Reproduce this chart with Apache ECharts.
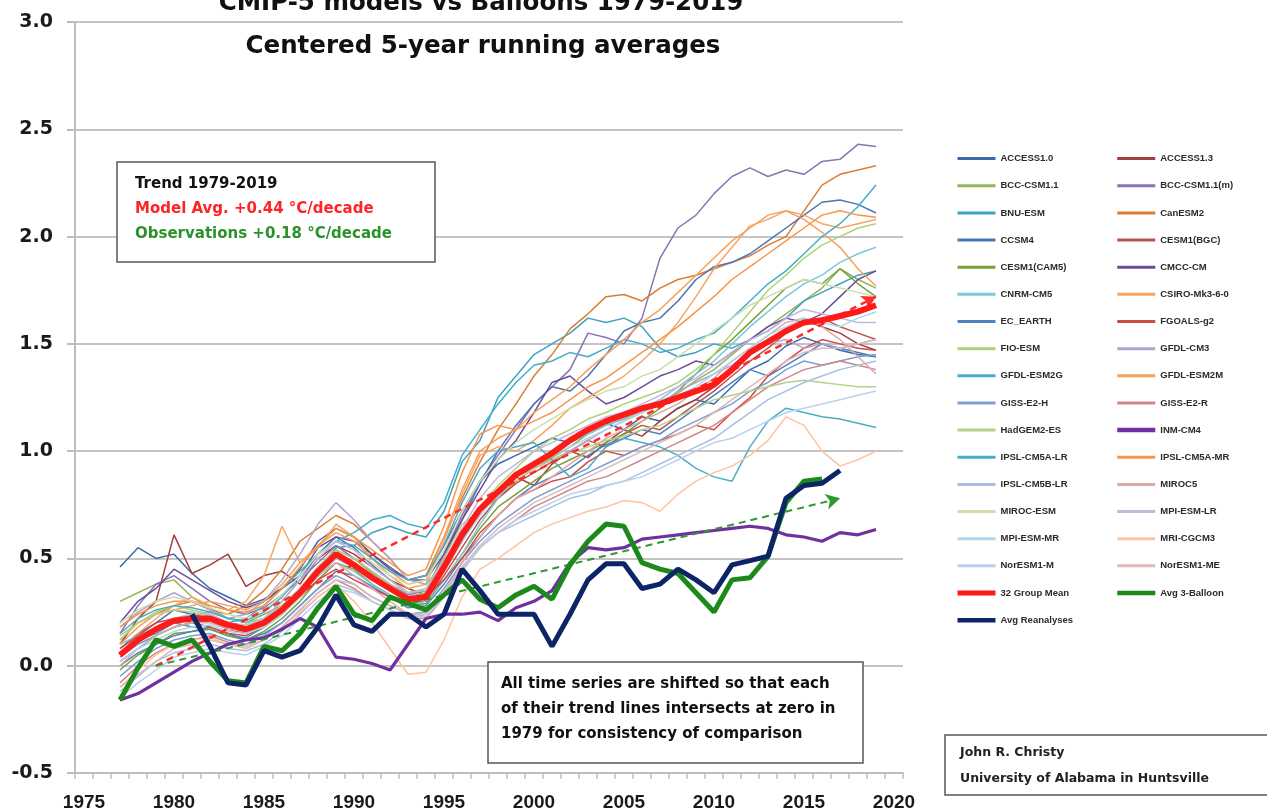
<!DOCTYPE html>
<html>
<head>
<meta charset="utf-8">
<title>CMIP-5 models vs Balloons 1979-2019</title>
<script src="https://cdn.jsdelivr.net/npm/echarts@6/dist/echarts.min.js"></script>
<style>
  html, body { margin: 0; padding: 0; background: #fff; }
  #chart { width: 1267px; height: 812px; }
</style>
</head>
<body>
<div id="chart"></div>
<script>
// axis categories (Excel-style category axis, one band per year)
const categories = ['1975','1976','1977','1978','1979','1980','1981','1982','1983','1984',
  '1985','1986','1987','1988','1989','1990','1991','1992','1993','1994','1995','1996','1997',
  '1998','1999','2000','2001','2002','2003','2004','2005','2006','2007','2008','2009','2010',
  '2011','2012','2013','2014','2015','2016','2017','2018','2019','2020']
// series run 1977..2019
const years = categories.slice(2, 45)

// model runs, centered 5-yr means, 1977..2019
const access10 = [0.46,0.55,0.50,0.52,0.43,0.36,0.32,0.28,0.31,0.36, 0.45,0.58,0.64,0.60,0.52,0.46,0.40,0.42,0.56,0.72, 0.86,0.94,0.98,1.02,1.06,1.04,1.10,1.13,1.10,1.16, 1.14,1.20,1.24,1.22,1.30,1.38,1.42,1.49,1.53,1.50, 1.47,1.45,1.44]
const access13 = [0.10,0.22,0.30,0.61,0.43,0.47,0.52,0.37,0.42,0.44, 0.38,0.50,0.56,0.52,0.46,0.40,0.36,0.33,0.44,0.58, 0.72,0.80,0.88,0.84,0.94,1.00,0.97,1.04,1.10,1.07, 1.14,1.20,1.24,1.30,1.37,1.45,1.50,1.56,1.61,1.58, 1.55,1.50,1.47]
const bccCsm11 = [0.30,0.34,0.38,0.40,0.32,0.27,0.22,0.20,0.24,0.28, 0.36,0.46,0.54,0.50,0.43,0.37,0.32,0.34,0.47,0.62, 0.72,0.78,0.86,0.92,0.97,1.02,1.08,1.12,1.15,1.19, 1.23,1.27,1.33,1.38,1.45,1.52,1.58,1.64,1.70,1.76, 1.85,1.80,1.76]
const bccCsm11m = [0.15,0.28,0.38,0.42,0.36,0.30,0.26,0.24,0.27,0.33, 0.40,0.48,0.56,0.50,0.44,0.38,0.33,0.35,0.52,0.70, 0.86,0.98,1.10,1.22,1.30,1.38,1.55,1.53,1.50,1.62, 1.90,2.04,2.10,2.20,2.28,2.32,2.28,2.31,2.29,2.35, 2.36,2.43,2.42]
const bnuEsm = [0.05,0.12,0.15,0.20,0.18,0.17,0.14,0.13,0.18,0.24, 0.33,0.45,0.55,0.56,0.62,0.65,0.62,0.60,0.72,0.95, 1.05,1.25,1.35,1.45,1.50,1.55,1.62,1.60,1.62,1.58, 1.48,1.44,1.46,1.50,1.48,1.52,1.56,1.62,1.70,1.74, 1.78,1.82,1.84]
const canEsm2 = [0.12,0.20,0.24,0.28,0.30,0.26,0.24,0.28,0.35,0.45, 0.58,0.64,0.70,0.66,0.58,0.50,0.40,0.42,0.60,0.78, 0.95,1.10,1.22,1.35,1.45,1.57,1.64,1.72,1.73,1.70, 1.76,1.80,1.82,1.85,1.88,1.91,1.96,2.00,2.12,2.24, 2.29,2.31,2.33]
const ccsm4 = [0.08,0.15,0.20,0.26,0.24,0.22,0.18,0.17,0.22,0.30, 0.40,0.52,0.60,0.55,0.47,0.40,0.34,0.35,0.50,0.68, 0.85,1.00,1.12,1.22,1.30,1.28,1.35,1.45,1.56,1.60, 1.62,1.70,1.80,1.86,1.88,1.92,1.98,2.04,2.10,2.16, 2.17,2.15,2.11]
const cesm1Bgc = [0.02,0.08,0.14,0.18,0.20,0.21,0.17,0.15,0.19,0.25, 0.33,0.42,0.50,0.46,0.40,0.35,0.30,0.30,0.42,0.55, 0.68,0.78,0.85,0.90,0.95,1.00,1.05,1.02,1.08,1.12, 1.10,1.16,1.22,1.28,1.35,1.42,1.48,1.55,1.60,1.62, 1.58,1.55,1.52]
const cesm1Cam5 = [-0.02,0.05,0.10,0.15,0.16,0.17,0.14,0.12,0.16,0.22, 0.30,0.40,0.48,0.45,0.38,0.33,0.28,0.29,0.40,0.52, 0.64,0.74,0.80,0.86,0.92,0.96,1.00,1.04,1.08,1.14, 1.20,1.28,1.36,1.45,1.52,1.60,1.68,1.76,1.80,1.78, 1.85,1.78,1.72]
const cmccCm = [0.20,0.30,0.36,0.45,0.40,0.35,0.30,0.27,0.30,0.36, 0.42,0.55,0.60,0.58,0.52,0.45,0.40,0.40,0.52,0.68, 0.82,0.96,1.05,1.18,1.32,1.35,1.28,1.22,1.25,1.30, 1.35,1.38,1.42,1.40,1.46,1.52,1.58,1.62,1.60,1.64, 1.72,1.80,1.84]
const cnrmCm5 = [0.10,0.14,0.18,0.22,0.24,0.25,0.22,0.20,0.22,0.27, 0.34,0.42,0.48,0.44,0.38,0.33,0.28,0.30,0.40,0.52, 0.66,0.78,0.88,0.95,0.98,1.04,1.08,1.12,1.15,1.20, 1.24,1.30,1.36,1.42,1.50,1.58,1.65,1.72,1.78,1.82, 1.88,1.92,1.95]
const csiroMk36 = [0.05,0.15,0.22,0.28,0.32,0.28,0.26,0.30,0.42,0.65, 0.48,0.55,0.66,0.60,0.50,0.42,0.36,0.38,0.58,0.80, 0.98,1.02,1.00,1.05,1.12,1.20,1.25,1.30,1.35,1.42, 1.50,1.60,1.72,1.85,1.95,2.05,2.08,2.12,2.10,2.06, 2.04,2.06,2.08]
const ecEarth = [0.00,0.06,0.10,0.14,0.16,0.18,0.15,0.12,0.15,0.20, 0.28,0.36,0.44,0.42,0.37,0.32,0.27,0.28,0.38,0.50, 0.60,0.70,0.78,0.84,0.88,0.92,0.98,1.03,1.06,1.10, 1.08,1.14,1.20,1.26,1.32,1.38,1.35,1.40,1.45,1.50, 1.48,1.46,1.44]
const fgoalsG2 = [0.08,0.14,0.20,0.22,0.20,0.18,0.15,0.14,0.18,0.24, 0.32,0.40,0.45,0.40,0.36,0.32,0.30,0.32,0.40,0.50, 0.62,0.70,0.78,0.82,0.86,0.88,0.95,1.00,0.98,1.02, 1.05,1.08,1.12,1.10,1.18,1.25,1.35,1.42,1.48,1.52, 1.50,1.48,1.47]
const fioEsm = [0.12,0.20,0.25,0.28,0.26,0.24,0.20,0.18,0.21,0.26, 0.34,0.44,0.52,0.48,0.42,0.36,0.32,0.33,0.45,0.60, 0.74,0.84,0.92,1.00,1.06,1.10,1.15,1.18,1.22,1.25, 1.28,1.32,1.38,1.45,1.55,1.65,1.75,1.82,1.90,1.96, 2.00,2.04,2.06]
const gfdlCm3 = [0.18,0.25,0.30,0.34,0.30,0.26,0.22,0.24,0.30,0.40, 0.52,0.66,0.76,0.68,0.58,0.50,0.40,0.38,0.48,0.62, 0.74,0.82,0.88,0.92,0.96,1.00,1.05,1.10,1.14,1.18, 1.22,1.28,1.32,1.36,1.40,1.46,1.50,1.52,1.48,1.50, 1.48,1.50,1.52]
const gfdlEsm2g = [0.04,0.10,0.14,0.18,0.20,0.22,0.20,0.22,0.28,0.36, 0.44,0.52,0.58,0.62,0.68,0.70,0.66,0.64,0.76,0.98, 1.10,1.22,1.32,1.40,1.42,1.46,1.44,1.48,1.52,1.50, 1.46,1.48,1.52,1.55,1.62,1.70,1.78,1.84,1.92,2.00, 2.06,2.14,2.24]
const gfdlEsm2m = [0.10,0.18,0.24,0.26,0.28,0.30,0.28,0.26,0.30,0.38, 0.48,0.56,0.62,0.58,0.50,0.44,0.38,0.40,0.60,0.82, 1.00,1.06,1.10,1.18,1.24,1.30,1.38,1.45,1.52,1.60, 1.66,1.74,1.82,1.90,1.98,2.04,2.10,2.12,2.08,2.02, 1.95,1.85,1.77]
const gissE2h = [-0.05,0.02,0.08,0.12,0.14,0.15,0.12,0.10,0.14,0.20, 0.28,0.36,0.42,0.38,0.32,0.28,0.24,0.25,0.36,0.48, 0.58,0.66,0.72,0.78,0.82,0.86,0.90,0.94,0.98,1.02, 1.05,1.10,1.14,1.18,1.22,1.28,1.32,1.38,1.42,1.40, 1.42,1.44,1.45]
const gissE2r = [-0.08,0.00,0.06,0.10,0.12,0.14,0.11,0.09,0.12,0.18, 0.26,0.34,0.40,0.36,0.30,0.26,0.22,0.22,0.32,0.44, 0.55,0.62,0.68,0.74,0.78,0.82,0.86,0.88,0.92,0.96, 1.00,1.04,1.08,1.12,1.18,1.24,1.30,1.34,1.38,1.40, 1.42,1.40,1.38]
const hadgem2Es = [0.14,0.20,0.24,0.26,0.25,0.23,0.20,0.19,0.22,0.28, 0.36,0.46,0.54,0.50,0.44,0.38,0.34,0.36,0.50,0.66, 0.72,0.80,0.86,0.92,0.96,0.99,1.02,1.05,1.07,1.10, 1.12,1.16,1.20,1.24,1.26,1.28,1.30,1.32,1.33,1.32, 1.31,1.30,1.30]
const inmCm4 = [-0.16,-0.13,-0.08,-0.03,0.02,0.06,0.10,0.12,0.13,0.17, 0.22,0.18,0.04,0.03,0.01,-0.02,0.10,0.22,0.24,0.24, 0.25,0.21,0.27,0.30,0.35,0.48,0.55,0.54,0.55,0.59, 0.60,0.61,0.62,0.63,0.64,0.65,0.64,0.61,0.60,0.58, 0.62,0.61,0.635]
const ipslCm5aLr = [0.15,0.22,0.26,0.28,0.27,0.25,0.22,0.21,0.25,0.32, 0.42,0.52,0.58,0.56,0.50,0.44,0.40,0.42,0.56,0.76, 0.92,1.00,1.02,1.04,0.96,0.88,0.92,1.02,1.06,1.04, 1.02,0.98,0.92,0.88,0.86,1.02,1.14,1.20,1.18,1.16, 1.15,1.13,1.11]
const ipslCm5aMr = [0.18,0.24,0.28,0.30,0.30,0.28,0.26,0.25,0.28,0.36, 0.46,0.56,0.64,0.60,0.54,0.48,0.42,0.45,0.65,0.90, 1.08,1.12,1.10,1.14,1.18,1.24,1.30,1.34,1.40,1.46, 1.52,1.58,1.65,1.72,1.80,1.86,1.92,1.98,2.04,2.10, 2.12,2.10,2.09]
const ipslCm5bLr = [-0.12,-0.05,0.02,0.06,0.08,0.10,0.08,0.07,0.10,0.16, 0.24,0.32,0.38,0.35,0.30,0.26,0.22,0.24,0.34,0.45, 0.55,0.62,0.66,0.70,0.74,0.78,0.80,0.84,0.86,0.90, 0.94,0.98,1.02,1.06,1.12,1.18,1.24,1.28,1.32,1.35, 1.38,1.40,1.42]
const miroc5 = [0.00,0.08,0.14,0.18,0.20,0.20,0.17,0.16,0.19,0.25, 0.33,0.42,0.48,0.42,0.36,0.30,0.24,0.22,0.34,0.48, 0.60,0.70,0.78,0.82,0.88,0.94,1.00,1.06,1.10,1.14, 1.18,1.22,1.28,1.34,1.42,1.48,1.54,1.60,1.62,1.58, 1.52,1.44,1.36]
const mirocEsm = [0.20,0.26,0.30,0.32,0.30,0.27,0.24,0.22,0.26,0.33, 0.42,0.52,0.58,0.54,0.48,0.42,0.38,0.40,0.54,0.72, 0.86,0.96,1.04,1.10,1.15,1.20,1.24,1.28,1.30,1.35, 1.38,1.44,1.50,1.56,1.62,1.68,1.72,1.76,1.80,1.78, 1.76,1.74,1.72]
const mpiEsmLr = [0.06,0.12,0.18,0.22,0.24,0.24,0.20,0.18,0.22,0.30, 0.40,0.50,0.58,0.54,0.46,0.40,0.34,0.35,0.48,0.64, 0.78,0.88,0.94,1.00,1.04,1.08,1.12,1.16,1.18,1.22, 1.26,1.30,1.34,1.40,1.46,1.52,1.56,1.62,1.66,1.64, 1.62,1.60,1.60]
const mpiEsmMr = [0.02,0.08,0.12,0.16,0.18,0.19,0.16,0.15,0.18,0.24, 0.32,0.42,0.50,0.46,0.40,0.35,0.30,0.31,0.44,0.58, 0.70,0.80,0.88,0.94,0.98,1.02,1.06,1.10,1.14,1.18, 1.22,1.26,1.30,1.36,1.42,1.48,1.54,1.58,1.62,1.60, 1.58,1.62,1.65]
const mriCgcm3 = [-0.10,-0.02,0.05,0.10,0.12,0.13,0.10,0.09,0.12,0.18, 0.25,0.32,0.38,0.30,0.20,0.08,-0.04,-0.03,0.12,0.32, 0.45,0.50,0.56,0.62,0.66,0.69,0.72,0.74,0.77,0.76, 0.72,0.80,0.86,0.90,0.93,0.98,1.05,1.16,1.12,1.00, 0.93,0.96,1.00]
const noresm1M = [-0.15,-0.08,-0.02,0.04,0.06,0.08,0.06,0.05,0.09,0.14, 0.22,0.30,0.36,0.34,0.30,0.26,0.22,0.23,0.32,0.44, 0.55,0.62,0.68,0.72,0.76,0.80,0.82,0.84,0.86,0.88, 0.92,0.96,1.00,1.04,1.06,1.10,1.14,1.18,1.20,1.22, 1.24,1.26,1.28]
const noresm1Me = [-0.10,-0.04,0.02,0.08,0.10,0.12,0.10,0.08,0.12,0.18, 0.26,0.34,0.40,0.38,0.32,0.28,0.24,0.24,0.34,0.46, 0.56,0.64,0.70,0.76,0.80,0.84,0.88,0.92,0.96,1.00, 1.04,1.08,1.12,1.18,1.24,1.30,1.36,1.42,1.46,1.48, 1.48,1.50,1.52]

// ensemble mean and observations
const groupMean = [0.05,0.12,0.17,0.21,0.22,0.22,0.19,0.17,0.20,0.26, 0.34,0.44,0.52,0.47,0.41,0.36,0.31,0.32,0.46,0.61, 0.73,0.81,0.89,0.94,0.99,1.05,1.10,1.14,1.17,1.20, 1.22,1.25,1.28,1.31,1.38,1.46,1.51,1.56,1.60,1.61, 1.63,1.65,1.68]
const balloons = [-0.16,-0.01,0.12,0.09,0.12,0.02,-0.07,-0.08,0.09,0.07, 0.15,0.27,0.37,0.24,0.21,0.32,0.29,0.26,0.33,0.40, 0.31,0.27,0.33,0.37,0.31,0.47,0.58,0.66,0.65,0.48, 0.45,0.43,0.34,0.25,0.40,0.41,0.51,0.76,0.86,0.87, null,null,null]
const reanalyses = [null,null,null,null,0.24,0.09,-0.08,-0.09,0.07,0.04, 0.07,0.18,0.33,0.19,0.16,0.24,0.24,0.18,0.24,0.45, 0.35,0.24,0.24,0.24,0.09,0.24,0.40,0.475,0.475,0.36, 0.38,0.45,0.40,0.34,0.47,0.49,0.51,0.78,0.84,0.85, 0.91,null,null]

// trend lines: [start year, value], [end year, value]
const modelTrend = [['1979', 0.0], ['2019', 1.72]]
const obsTrend = [['1979', 0.0], ['2017', 0.78]]

// legend order (row-major, like the Excel legend)
const models = [
  ['ACCESS1.0', '#3c6aa8', access10], ['ACCESS1.3', '#a23e3b', access13],
  ['BCC-CSM1.1', '#93b55a', bccCsm11], ['BCC-CSM1.1(m)', '#8c72b5', bccCsm11m],
  ['BNU-ESM', '#3fa3bf', bnuEsm], ['CanESM2', '#d97e33', canEsm2],
  ['CCSM4', '#4a76b3', ccsm4], ['CESM1(BGC)', '#c0504d', cesm1Bgc],
  ['CESM1(CAM5)', '#76a03a', cesm1Cam5], ['CMCC-CM', '#6b4c98', cmccCm],
  ['CNRM-CM5', '#7cc8dc', cnrmCm5], ['CSIRO-Mk3-6-0', '#f6a564', csiroMk36],
  ['EC_EARTH', '#4f81bd', ecEarth], ['FGOALS-g2', '#cf4a46', fgoalsG2],
  ['FIO-ESM', '#add27a', fioEsm], ['GFDL-CM3', '#b3a2d0', gfdlCm3],
  ['GFDL-ESM2G', '#44aecb', gfdlEsm2g], ['GFDL-ESM2M', '#f7a158', gfdlEsm2m],
  ['GISS-E2-H', '#7f9fd4', gissE2h], ['GISS-E2-R', '#d08784', gissE2r],
  ['HadGEM2-ES', '#b5d08a', hadgem2Es], ['INM-CM4', '#7030a0', inmCm4],
  ['IPSL-CM5A-LR', '#4bacc6', ipslCm5aLr], ['IPSL-CM5A-MR', '#f79646', ipslCm5aMr],
  ['IPSL-CM5B-LR', '#a7bfe3', ipslCm5bLr], ['MIROC5', '#e0a9a7', miroc5],
  ['MIROC-ESM', '#cadfab', mirocEsm], ['MPI-ESM-LR', '#c4b6dc', mpiEsmLr],
  ['MPI-ESM-MR', '#aad8e6', mpiEsmMr], ['MRI-CGCM3', '#fcc4a0', mriCgcm3],
  ['NorESM1-M', '#bcd0ec', noresm1M], ['NorESM1-ME', '#dcbaba', noresm1Me]
]

const toPairs = vals => vals.map((v, i) => [years[i], v]).filter(p => p[1] !== null)

const chart = echarts.init(document.getElementById('chart'))

const series = models.map(([name, color, vals]) => ({
  name,
  type: 'line',
  data: toPairs(vals),
  symbol: 'none',
  lineStyle: { color, width: name === 'INM-CM4' ? 3.2 : 1.5 },
  itemStyle: { color },
  z: name === 'INM-CM4' ? 3 : 2,
  emphasis: { disabled: true }
}))

const trendLine = (pts, color, width) => ({
  silent: true,
  symbol: ['none', 'arrow'],
  symbolSize: [12, 14],
  label: { show: false },
  lineStyle: { color, width, type: [7, 5] },
  emphasis: { disabled: true },
  data: [[{ coord: pts[0] }, { coord: pts[1] }]]
})

series.push({
  name: '32 Group Mean', type: 'line', data: toPairs(groupMean), symbol: 'none',
  lineStyle: { color: '#ff1a1a', width: 6 }, itemStyle: { color: '#ff1a1a' }, z: 5,
  emphasis: { disabled: true },
  markLine: trendLine(modelTrend, '#ff2a2a', 2.5)
})
series.push({
  name: 'Avg 3-Balloon', type: 'line', data: toPairs(balloons), symbol: 'none',
  lineStyle: { color: '#1b8a1b', width: 5 }, itemStyle: { color: '#1b8a1b' }, z: 6,
  emphasis: { disabled: true },
  markLine: trendLine(obsTrend, '#2e9a2e', 2)
})
series.push({
  name: 'Avg Reanalyses', type: 'line', data: toPairs(reanalyses), symbol: 'none',
  lineStyle: { color: '#0d2566', width: 5 }, itemStyle: { color: '#0d2566' }, z: 7,
  emphasis: { disabled: true }
})

const legendItem = name => {
  let w = 3
  if (name === '32 Group Mean') w = 5
  else if (name === 'Avg 3-Balloon' || name === 'Avg Reanalyses' || name === 'INM-CM4') w = 4.5
  return { name, lineStyle: { width: w }, itemStyle: { opacity: 0 } }
}
const modelNames = models.map(m => m[0])
const leftNames = modelNames.filter((n, i) => i % 2 === 0).concat(['32 Group Mean', 'Avg Reanalyses'])
const rightNames = modelNames.filter((n, i) => i % 2 === 1).concat(['Avg 3-Balloon'])

const legendBase = {
  orient: 'vertical',
  top: 148,
  itemWidth: 38,
  itemHeight: 14,
  itemGap: 15.95,
  selectedMode: false,
  itemStyle: { opacity: 0 },
  textStyle: { fontFamily: 'Liberation Sans', fontSize: 9.5, fontWeight: 'bold', color: '#2a2a2a' }
}

const font = 'Liberation Sans'
const boxFont = 'DejaVu Sans'
const boxStyle = { fill: '#fff', stroke: '#555', lineWidth: 1.5 }
const txt = (x, y, text, size, color, align) => ({
  type: 'text', x, y, z: 101,
  style: { text, fill: color, fontFamily: boxFont, fontSize: size, fontWeight: 'bold',
    align: align || 'left', verticalAlign: 'middle' }
})

const option = {
  animation: false,
  backgroundColor: '#fff',
  grid: { left: 75, right: 364, top: 22, bottom: 39 },
  xAxis: {
    type: 'category',
    data: categories,
    boundaryGap: true,
    axisLine: { onZero: false, lineStyle: { color: '#bdbdbd', width: 2 } },
    axisTick: { show: true, interval: 0, length: 6, lineStyle: { color: '#bdbdbd', width: 1.5 } },
    axisLabel: { interval: 4, margin: 20, color: '#1a1a1a', fontFamily: font, fontSize: 19, fontWeight: 'bold' },
    splitLine: { show: false }
  },
  yAxis: {
    type: 'value',
    min: -0.5,
    max: 3.0,
    interval: 0.5,
    axisLine: { show: true, lineStyle: { color: '#bdbdbd', width: 2 } },
    axisTick: { show: true, length: 8, lineStyle: { color: '#bdbdbd', width: 2 } },
    axisLabel: { margin: 22, color: '#1a1a1a', fontFamily: 'DejaVu Sans', fontSize: 19, fontWeight: 'bold',
      formatter: v => v.toFixed(1) },
    splitLine: { lineStyle: { color: '#c4c4c4', width: 2 } }
  },
  legend: [
    Object.assign({}, legendBase, { left: 950, data: leftNames.map(legendItem) }),
    Object.assign({}, legendBase, { left: 1110, data: rightNames.map(legendItem) })
  ],
  series,
  graphic: [
    txt(481, 4, 'CMIP-5 models vs Balloons 1979-2019', 24.5, '#111', 'center'),
    txt(483, 47, 'Centered 5-year running averages', 24.5, '#111', 'center'),

    { type: 'rect', z: 100, shape: { x: 117, y: 162, width: 318, height: 100 }, style: boxStyle },
    txt(135, 184, 'Trend 1979-2019', 15, '#111'),
    txt(135, 209, 'Model Avg. +0.44 °C/decade', 15, '#ff2424'),
    txt(135, 234, 'Observations +0.18 °C/decade', 15, '#2a922a'),

    { type: 'rect', z: 100, shape: { x: 488, y: 662, width: 375, height: 101 }, style: boxStyle },
    txt(501, 684, 'All time series are shifted so that each', 15, '#111'),
    txt(501, 709, 'of their trend lines intersects at zero in', 15, '#111'),
    txt(501, 734, '1979 for consistency of comparison', 15, '#111'),

    { type: 'rect', z: 100, shape: { x: 945, y: 735, width: 330, height: 60 }, style: boxStyle },
    txt(960, 753, 'John R. Christy', 12.5, '#222'),
    txt(960, 779, 'University of Alabama in Huntsville', 12.5, '#222')
  ]
}

chart.setOption(option)
window.addEventListener('resize', () => chart.resize())
</script>
</body>
</html>
